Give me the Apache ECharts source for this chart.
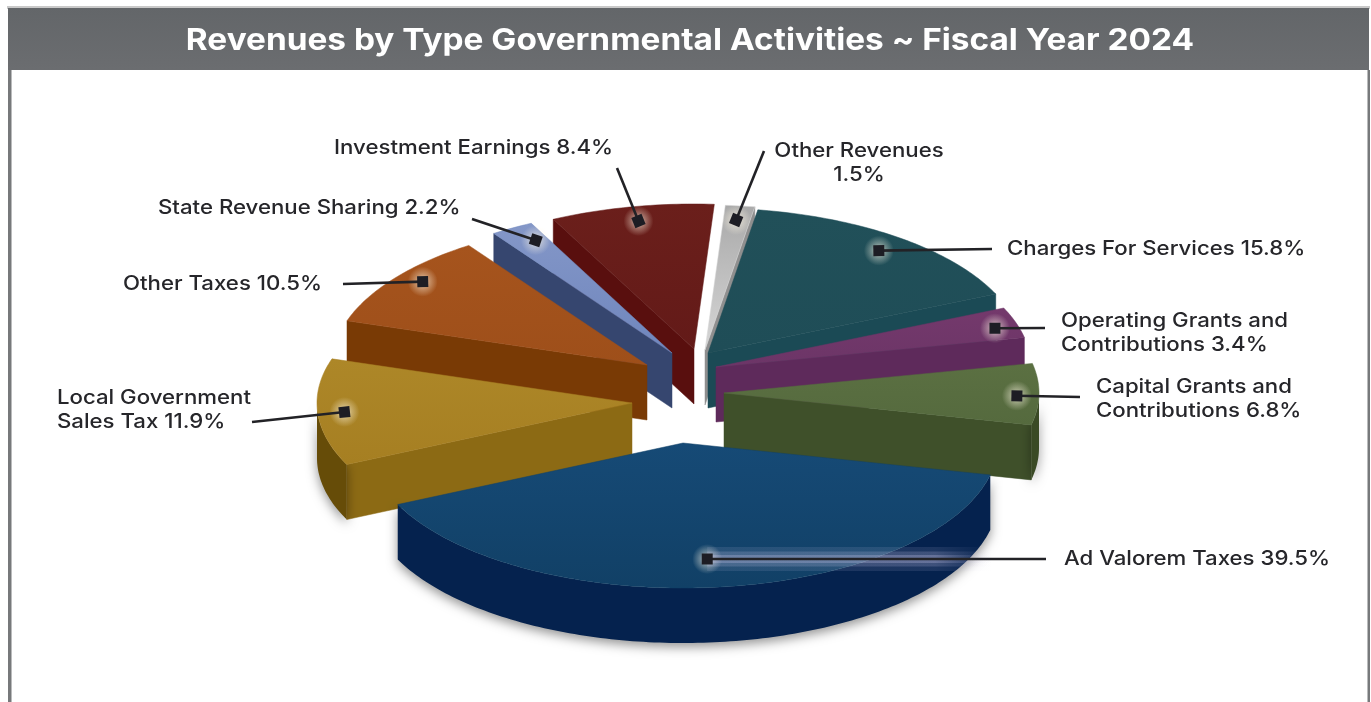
<!DOCTYPE html>
<html>
<head>
<meta charset="utf-8">
<style>html,body{margin:0;padding:0;background:#fff}#chart{width:1371px;height:702px}</style>
<script src="https://cdn.jsdelivr.net/npm/echarts@6/dist/echarts.min.js"></script>
</head>
<body>
<div id="chart"></div>
<script>
// Revenue sources, clockwise around the pie, in percent of the total.
const categories = ['Ad Valorem Taxes','Local Government Sales Tax','Other Taxes','State Revenue Sharing','Investment Earnings','Other Revenues','Charges For Services','Operating Grants and Contributions','Capital Grants and Contributions'];
const shares = [39.5,11.9,10.5,2.2,8.4,1.5,15.8,3.4,6.8];
const chartTitle = 'Revenues by Type Governmental Activities ~ Fiscal Year 2024';
const labelLines = [
  ['Ad Valorem Taxes 39.5%'],
  ['Local Government','Sales Tax 11.9%'],
  ['Other Taxes 10.5%'],
  ['State Revenue Sharing 2.2%'],
  ['Investment Earnings 8.4%'],
  ['Other Revenues','1.5%'],
  ['Charges For Services 15.8%'],
  ['Operating Grants and','Contributions 3.4%'],
  ['Capital Grants and','Contributions 6.8%']
];

// Pie projection and exploded layout.
const FIRST_ANGLE = 102.7, RX = 315, RY = 145, DEPTH = 55;
const sliceOrigin = [[683,443],[632,403],[647,365],[672,353],[694,349],[705,350],[708,353],[716,367],[724,393]];
const paintOrder = [5,4,6,3,2,7,8,1,0];

// Face colours: top surface (two stops), cut wall, rim.
const faces = [
  ['#164a76','#114066','#07244f','#05224e'],
  ['#ad8728','#a67f22','#8c6a14','#664c08'],
  ['#a6541d','#9e4f1a','#793a05','#793a05'],
  ['#8497c8','#6f86bd','#36466f','#36466f'],
  ['#6b1f1b','#631a18','#590f0e','#590f0e'],
  ['#a9a9a9','#d6d6d6','#8f8f8f','#8f8f8f'],
  ['#215059','#1f4d57','#1b4a55','#1b4a55'],
  ['#74396c','#6c3567','#5e2a5b','#5e2a5b'],
  ['#5b7042','#556a3e','#3f502a','#3a4a25']
];

// Annotation layout: marker [fraction across the slice, fraction of radius], leader end, text anchor.
const markerAt = [[.505,.804],[.495,.915],[.56,.915],[.68,.89],[.504,.9],[.48,.902],[.5,.89],[.59,.925],[.53,.93]];
const leaderEnd = [[1046,559],[252,422],[343,284],[472,219],[617,168],[764,151],[992,249],[1045,328],[1080,397]];
const textAnchor = [[1064,559,'left'],[57,410,'left'],[123,284,'left'],[158,208,'left'],[334,148,'left'],[859,163,'center'],[1007,249,'left'],[1061,333,'left'],[1096,399,'left']];

const FONT = 'Inter, "Noto Sans", sans-serif';
const WIDEN = 1.11;
const total = shares.reduce((a,b)=>a+b,0);
const spans = [];
shares.reduce((start,v)=>{ const end = start + v/total*360; spans.push([start,end]); return end; }, FIRST_ANGLE);

const rad = d => d*Math.PI/180;
const project = (o,deg,r=1,down=0) => [o[0]+RX*r*Math.sin(rad(deg)), o[1]-RY*r*Math.cos(rad(deg))+down];

function arcPoints(o,a,b,down){
  const pts=[]; const n=Math.max(2,Math.ceil(b-a));
  for(let k=0;k<=n;k++) pts.push(project(o,a+(b-a)*k/n,1,down));
  return pts;
}
const vgrad = (c0,c1,x2=0,y2=1) => ({type:'linear',x:0,y:0,x2,y2,colorStops:[{offset:0,color:c0},{offset:1,color:c1}]});

function sliceShapes(i){
  const o=sliceOrigin[i], [a,b]=spans[i], f=faces[i], kids=[];
  const wall=(deg,z)=>({type:'polygon',z2:z,shape:{points:[o,project(o,deg),project(o,deg,1,DEPTH),[o[0],o[1]+DEPTH]]},style:{fill:f[2],stroke:f[2],lineWidth:.5}});
  if(Math.sin(rad(a))<-0.1) kids.push(wall(a,1));
  if(Math.sin(rad(b))>0.1) kids.push(wall(b,1));
  // Rim: only the stretches of the arc that face the viewer.
  [[90,270],[450,630]].forEach(([lo,hi])=>{
    const s=Math.max(a,lo), e=Math.min(b,hi);
    if(e>s){
      const top=arcPoints(o,s,e,0), low=arcPoints(o,s,e,DEPTH).reverse();
      kids.push({type:'polygon',z2:2,shape:{points:top.concat(low)},style:{fill:f[3],shadowBlur:11,shadowOffsetY:4,shadowColor:'rgba(0,0,0,.42)'}});
    }
  });
  kids.push({type:'polygon',z2:3,shape:{points:[o].concat(arcPoints(o,a,b,0))},style:{fill:vgrad(f[0],f[1]),stroke:f[1],lineWidth:.5}});
  return kids;
}

function annotationShapes(i){
  const o=sliceOrigin[i], [a,b]=spans[i], [frac,r]=markerAt[i];
  const m=project(o,a+(b-a)*frac,r), e=leaderEnd[i], t=textAnchor[i];
  const kids=[];
  kids.push({type:'circle',shape:{cx:m[0],cy:m[1],r:15},style:{fill:{type:'radial',x:.5,y:.5,r:.5,colorStops:[{offset:0,color:'rgba(255,248,230,.8)'},{offset:.5,color:'rgba(255,248,230,.35)'},{offset:1,color:'rgba(255,248,230,0)'}]}}});
  if(i===0){
    // The long leader across the blue slice carries a soft halo that fades towards the rim.
    [[24,.12],[15,.2],[8,.28]].forEach(([w,alpha])=>{
      kids.push({type:'line',shape:{x1:m[0],y1:m[1],x2:992,y2:m[1]},style:{lineWidth:w,stroke:{type:'linear',global:true,x:m[0],y:0,x2:992,y2:0,colorStops:[
        {offset:0,color:`rgba(200,195,230,${alpha})`},{offset:.8,color:`rgba(200,195,230,${alpha})`},{offset:1,color:'rgba(200,195,230,0)'}]}}});
    });
  }
  kids.push({type:'line',shape:{x1:m[0],y1:m[1],x2:e[0],y2:e[1]},style:{stroke:'#222226',lineWidth:2.6}});
  kids.push({type:'rect',x:m[0],y:m[1],rotation:-Math.atan2(e[1]-m[1],e[0]-m[0]),shape:{x:-5.5,y:-5.5,width:11,height:11},style:{fill:'#1d1d24'}});
  kids.push({type:'text',x:t[0],y:t[1],scaleX:WIDEN,style:{text:labelLines[i].join('\n'),fill:'#26262a',font:'500 20px '+FONT,lineHeight:24,align:t[2],verticalAlign:'middle'}});
  return kids;
}

const chart = echarts.init(document.getElementById('chart'),null,{renderer:'canvas'});
chart.setOption({
  animation:false,
  backgroundColor:'#ffffff',
  graphic:{elements:[
    {type:'rect',z:-1,shape:{x:7,y:6,width:1363,height:3},style:{fill:'#c9c9c9'}},
    {type:'rect',z:-1,shape:{x:8,y:8,width:1361,height:62},style:{fill:vgrad('#636669','#6b6d70')}},
    {type:'rect',z:-1,shape:{x:8,y:70,width:3.5,height:632},style:{fill:'#77797b'}},
    {type:'rect',z:-1,shape:{x:1367.5,y:70,width:2.5,height:632},style:{fill:'#77797b'}},
    {type:'text',z:1,x:690,y:41,scaleX:1.112,style:{text:chartTitle,fill:'#ffffff',font:'700 30px '+FONT,align:'center',verticalAlign:'middle'}}
  ]},
  series:[
    {type:'custom',coordinateSystem:'none',silent:true,z:2,data:paintOrder.map(i=>[i,shares[i]]),
     renderItem:(p,api)=>({type:'group',children:sliceShapes(api.value(0))})},
    {type:'custom',coordinateSystem:'none',silent:true,z:3,data:categories.map((c,i)=>({name:c,value:[i,shares[i]]})),
     renderItem:(p,api)=>({type:'group',children:annotationShapes(api.value(0))})}
  ]
});
</script>
</body>
</html>
